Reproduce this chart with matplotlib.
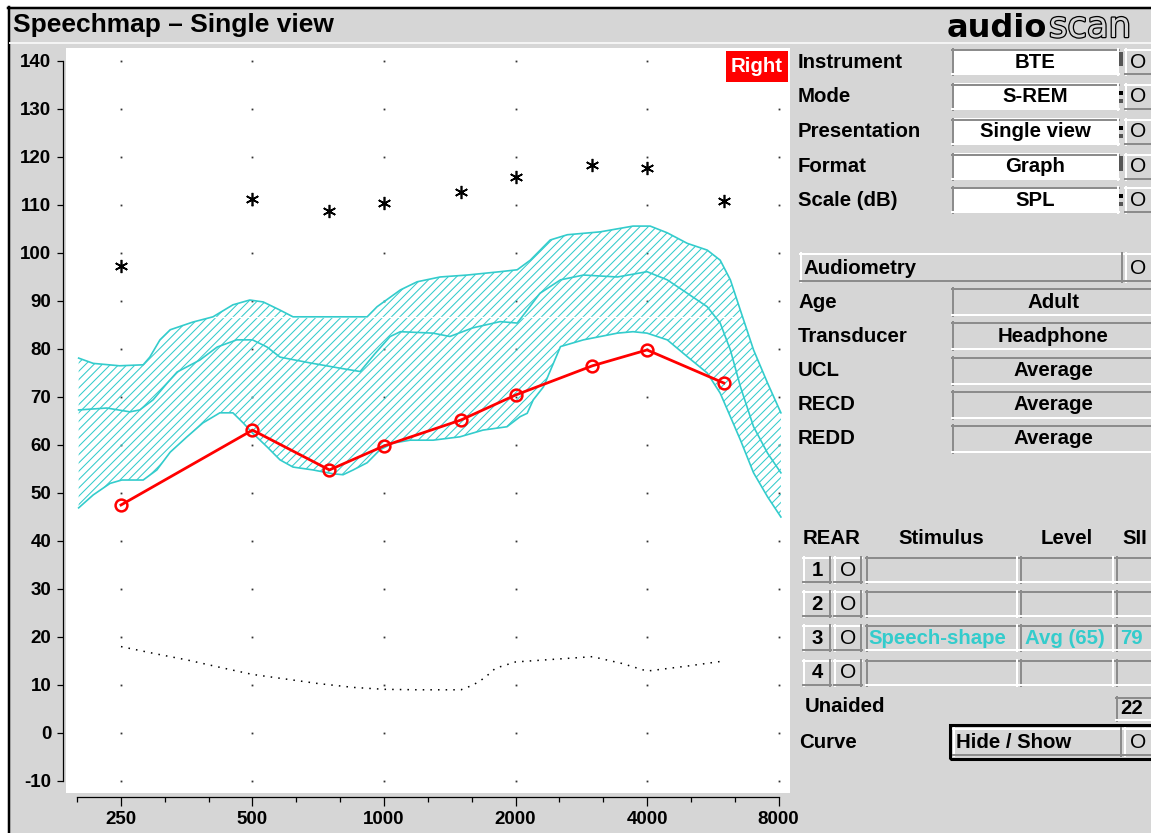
import numpy as np
import matplotlib
matplotlib.use('Agg')
import matplotlib.pyplot as plt
from matplotlib.patches import Rectangle
from matplotlib.lines import Line2D
from matplotlib.ticker import FixedLocator, NullFormatter
import matplotlib.patheffects as pe

plt.rcParams['font.family'] = ['Liberation Sans', 'DejaVu Sans']
plt.rcParams['hatch.linewidth'] = 0.75

# aided response (REAR 3) and UCL asterisks
freqs = [250, 500, 750, 1000, 1500, 2000, 3000, 4000, 6000]
aided_db = [47.5, 63.1, 54.8, 59.8, 65.2, 70.4, 76.5, 79.8, 72.9]
ucl_db = [97.3, 111.3, 108.8, 110.4, 112.7, 115.8, 118.3, 117.7, 110.8]

# threshold (dotted)
thr_freq = [250, 300, 355, 420, 500, 600, 707, 850, 1000, 1200, 1500, 1600,
            1700, 1800, 2000, 2400, 3000, 3500, 4000, 5000, 6000]
thr_db = [18, 16.5, 15.2, 13.7, 12.2, 11.2, 10.3, 9.5, 9.1, 9, 9, 10,
          11.5, 13.5, 14.8, 15.3, 15.9, 14.5, 12.9, 14.0, 15.0]

# speech range - upper edge
up_freq = [200, 216, 248, 281, 291, 307, 324, 365, 406, 451, 493, 529, 578,
           619, 915, 964, 1090, 1191, 1344, 1549, 1844, 2018, 2162, 2401,
           2628, 3125, 3715, 4067, 4450, 4946, 5493, 5882, 6206, 6546, 7013,
           7550, 8100]
up_db = [78.1, 77.0, 76.5, 76.7, 78.3, 81.9, 84.0, 85.6, 86.7, 89.2, 90.2,
         89.8, 88.1, 86.7, 86.7, 88.8, 92.3, 94.0, 95.0, 95.4, 96.1, 96.5,
         98.5, 102.7, 103.8, 104.4, 105.6, 105.6, 104.2, 102.0, 100.6, 98.5,
         94.4, 88.0, 79.8, 72.9, 66.7]

# speech range - lower edge
lo_freq = [200, 216, 236, 251, 281, 302, 324, 354, 385, 421, 451, 476, 500,
           540, 578, 619, 688, 764, 806, 850, 915, 979, 1049, 1148, 1295,
           1492, 1685, 1912, 2049, 2127, 2196, 2317, 2535, 2861, 3422, 3715,
           4000, 4450, 4946, 5493, 5882, 6206, 6546, 7013, 7550, 8100]
lo_db = [46.9, 49.6, 52.0, 52.7, 52.7, 54.8, 58.5, 61.7, 64.6, 66.7, 66.7,
         64.6, 62.5, 59.6, 56.9, 55.4, 54.8, 54.0, 53.8, 54.8, 56.3, 59.0,
         60.4, 61.0, 61.0, 61.7, 63.1, 63.8, 65.9, 66.6, 69.4, 72.1, 80.5,
         81.9, 83.3, 83.6, 83.3, 81.9, 78.4, 75.0, 70.8, 65.9, 61.0, 54.2,
         49.2, 45.0]

# speech range - LTASS
mid_freq = [200, 232, 262, 276, 296, 319, 336, 379, 415, 460, 500, 540, 578,
            677, 793, 882, 953, 1033, 1090, 1295, 1415, 1597, 1844, 2018,
            2127, 2275, 2535, 2861, 3422, 4000, 4450, 4946, 5493, 5882, 6206,
            6546, 7013, 7550, 8100]
mid_db = [67.3, 67.7, 66.9, 67.3, 69.4, 72.9, 75.2, 77.7, 80.4, 81.9, 81.9,
          80.4, 78.3, 77.1, 76.0, 75.3, 79.0, 82.6, 83.6, 83.3, 82.6, 84.4,
          85.7, 85.4, 88.1, 91.6, 94.4, 95.4, 95.0, 96.1, 94.4, 91.6, 88.8,
          85.4, 79.8, 72.1, 63.8, 58.3, 54.2]

octaves = [250, 500, 1000, 2000, 4000, 8000]
oct_labels = ['250', '500', '1000', '2000', '4000', '8000']
levels = list(range(-10, 141, 10))

CYAN = '#33cccc'
GRAY = '#d6d6d6'
W, H = 1151, 833

fig = plt.figure(figsize=(W / 100, H / 100), dpi=100)
fig.patch.set_facecolor(GRAY)


def fx(x):
    return x / W


def fy(y):
    return 1 - y / H


def rect(x0, y0, x1, y1, color, edge='none', lw=0, z=1):
    fig.add_artist(Rectangle((fx(x0), fy(y1)), (x1 - x0) / W, (y1 - y0) / H,
                             transform=fig.transFigure, facecolor=color,
                             edgecolor=edge, linewidth=lw, zorder=z))


def line(xs, ys, color, lw=1.0, z=2):
    fig.add_artist(Line2D([fx(x) for x in xs], [fy(y) for y in ys],
                          transform=fig.transFigure, color=color,
                          linewidth=lw * 0.72, zorder=z))


def panel(x0, y0, x1, y1, face, sunken=True):
    rect(x0, y0, x1, y1, face)
    dark, light = '#8c8c8c', '#ffffff'
    tl, br = (dark, light) if sunken else (light, dark)
    line([x0, x1], [y0 + 1, y0 + 1], tl, 2)
    line([x0 + 1, x0 + 1], [y0, y1], tl, 2)
    line([x0, x1], [y1 - 1, y1 - 1], br, 2)
    line([x1 - 1, x1 - 1], [y0, y1], br, 2)


def txt(x, y, s, size=14.7, weight='bold', **kw):
    fig.text(fx(x), fy(y), s, va='center', fontsize=size, fontweight=weight, **kw)


# outer frame
rect(0, 0, W, 7, 'white')
rect(0, 0, 8, H, 'white')
line([8, W], [7.5, 7.5], 'black', 2.5)
line([8.5, 8.5], [7, H], 'black', 2.5)
line([10, W], [43, 43], '#f4f4f4', 2)

txt(13, 25, 'Speechmap \u2013 Single view', size=19)
fig.text(fx(947), fy(37), 'audio', fontsize=23, fontweight='bold',
         family='DejaVu Sans', va='baseline')
fig.text(fx(1049), fy(37), 'scan', fontsize=25.5, family='DejaVu Sans',
         va='baseline', color=GRAY,
         path_effects=[pe.withStroke(linewidth=1.8, foreground='black')])

# chart
ax = fig.add_axes([fx(66), fy(793), (790 - 66) / W, (793 - 48) / H])
ax.set_facecolor('white')
ax.set_xscale('log', base=2)
ax.set_xlim(187.1, 8498)
ax.set_ylim(-12.5, 142.7)

gx, gy = np.meshgrid(octaves, levels)
ax.plot(gx.ravel(), gy.ravel(), ls='none', marker='s', ms=1.3, mew=0,
        color='#333333', zorder=1)

ax.fill(up_freq + lo_freq[::-1], up_db + lo_db[::-1], facecolor='none',
        edgecolor=CYAN, hatch='////', linewidth=0, zorder=2)
ax.plot([330, 6500], [86.6, 86.6], color='white', lw=0.9, zorder=2.5)
for f, v in [(up_freq, up_db), (lo_freq, lo_db), (mid_freq, mid_db)]:
    ax.plot(f, v, color=CYAN, lw=1.2, zorder=3)

ax.plot(thr_freq, thr_db, color='black', lw=1.1, ls=(0, (1, 4)), zorder=4)
ax.plot(freqs, ucl_db, ls='none', marker=(6, 2, 0), ms=9.5, mew=1.2,
        color='black', zorder=5)
ax.plot(freqs, aided_db, color='#ff0000', lw=2, marker='o', ms=8.5,
        mfc='none', mec='#ff0000', mew=1.8, zorder=6)

for s in ['top', 'right']:
    ax.spines[s].set_visible(False)
ax.spines['left'].set_position(('outward', 2.2))
ax.spines['left'].set_bounds(-10, 140)
ax.spines['bottom'].set_position(('outward', 2.9))
ax.spines['bottom'].set_bounds(198.4, 8000)
for s in ['left', 'bottom']:
    ax.spines[s].set_linewidth(0.9)

ax.set_yticks(levels)
ax.set_yticklabels([str(v) for v in levels])
ax.set_xticks(octaves)
ax.set_xticklabels(oct_labels)
thirds = [250 * 2 ** (k / 3) for k in range(-1, 16) if k % 3]
ax.xaxis.set_minor_locator(FixedLocator(thirds))
ax.xaxis.set_minor_formatter(NullFormatter())
ax.yaxis.set_minor_locator(FixedLocator([]))
ax.tick_params(axis='y', length=4.5, width=0.9, pad=4, labelsize=13.5)
ax.tick_params(axis='x', which='major', length=6.5, width=0.9, pad=3.5,
               labelsize=13.5)
ax.tick_params(axis='x', which='minor', length=3.8, width=0.9)
for lab in ax.get_xticklabels() + ax.get_yticklabels():
    lab.set_fontweight('bold')

rect(726, 51, 788, 82, '#ff0000')
txt(757, 67, 'Right', color='white', ha='center')

# right panel
setup = [('Instrument', 'BTE'), ('Mode', 'S-REM'),
         ('Presentation', 'Single view'), ('Format', 'Graph'),
         ('Scale (dB)', 'SPL')]
for i, (lab, val) in enumerate(setup):
    yc = [62, 96.5, 131.5, 166.5, 200][i]
    txt(798, yc, lab)
    panel(952, yc - 13, 1119, yc + 13, 'white')
    txt(1035, yc, val, ha='center')
    if i in (0, 3):
        rect(1119, yc - 10, 1123, yc + 4, '#555555')
    else:
        rect(1119, yc - 6, 1123, yc - 2, 'black')
        rect(1119, yc + 2, 1123, yc + 6, '#555555')
    panel(1125, yc - 13, 1160, yc + 13, GRAY, sunken=False)
    txt(1130, yc, 'O', weight='normal', size=15)

panel(800, 253, 1123, 282, GRAY, sunken=False)
txt(803, 268, 'Audiometry')
panel(1125, 253, 1160, 282, GRAY, sunken=False)
txt(1130, 268, 'O', weight='normal', size=15)

audio = [('Age', 'Adult'), ('Transducer', 'Headphone'), ('UCL', 'Average'),
         ('RECD', 'Average'), ('REDD', 'Average')]
for i, (lab, val) in enumerate(audio):
    yc = [302, 336, 371, 405, 439][i]
    txt(798, yc, lab)
    panel(952, yc - 14, 1165, yc + 14, GRAY)
    txt(1053, yc, val, ha='center')

txt(803, 538, 'REAR')
txt(941, 538, 'Stimulus', ha='center')
txt(1067, 538, 'Level', ha='center')
txt(1122, 538, 'SII')
rows = [('1', '', '', ''), ('2', '', '', ''),
        ('3', 'Speech-shape', 'Avg (65)', '79'), ('4', '', '', '')]
for i, (num, stim, lev, sii) in enumerate(rows):
    yc = [570, 604, 638, 673][i]
    panel(803, yc - 13, 831, yc + 13, GRAY, sunken=False)
    txt(817, yc, num, ha='center')
    panel(834, yc - 13, 862, yc + 13, GRAY, sunken=False)
    txt(848, yc, 'O', weight='normal', size=15, ha='center')
    panel(866, yc - 13, 1018, yc + 13, GRAY)
    panel(1020, yc - 13, 1114, yc + 13, GRAY)
    panel(1116, yc - 13, 1165, yc + 13, GRAY)
    txt(868, yc, stim, color=CYAN)
    txt(1025, yc, lev, color=CYAN)
    txt(1120, yc, sii, color=CYAN)

txt(805, 707, 'Unaided')
panel(1116, 697, 1165, 721, GRAY)
txt(1120, 709, '22')

txt(799, 742, 'Curve')
rect(950, 725, 1165, 759, 'none', edge='black', lw=2.2, z=3)
panel(953, 728, 1122, 756, GRAY, sunken=False)
txt(956, 742, 'Hide / Show')
panel(1124, 728, 1165, 756, GRAY, sunken=False)
txt(1130, 742, 'O', weight='normal', size=15)

fig.savefig('out.png', dpi=100, facecolor=fig.get_facecolor())
